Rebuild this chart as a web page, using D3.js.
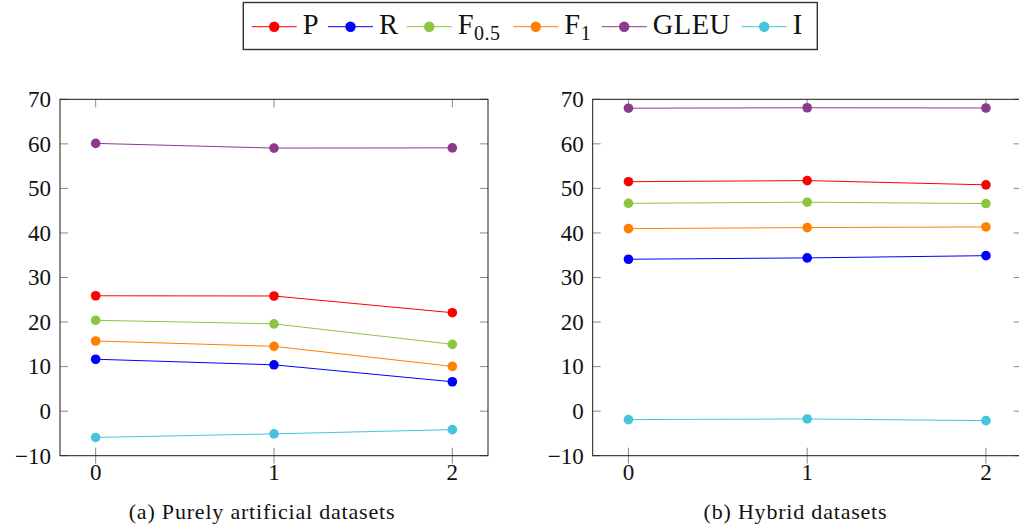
<!DOCTYPE html>
<html>
<head>
<meta charset="utf-8">
<script src="https://cdn.jsdelivr.net/npm/d3@7"></script>
<style>
  html, body { margin: 0; padding: 0; background: #fff; }
  svg { display: block; }
  text { fill: #111; }
</style>
</head>
<body>
<svg id="chart" width="1019" height="530"></svg>
<script>
// ---- data ----
const xValues = [0, 1, 2];
const seriesNames = ["P", "R", "F0.5", "F1", "GLEU", "I"];
const seriesColors = ["#ff0000", "#0000ff", "#8cc63f", "#ff8000", "#8b3a8e", "#45c4dc"];
const yTicks = [-10, 0, 10, 20, 30, 40, 50, 60, 70];

// (a) Purely artificial datasets
const artP    = [25.9, 25.85, 22.1];
const artR    = [11.65, 10.4, 6.6];
const artF05  = [20.4, 19.6, 15.0];
const artF1   = [15.75, 14.55, 10.05];
const artGLEU = [60.1, 59.05, 59.1];
const artI    = [-5.9, -5.1, -4.15];

// (b) Hybrid datasets
const hybP    = [51.5, 51.75, 50.8];
const hybR    = [34.1, 34.4, 34.9];
const hybF05  = [46.65, 46.9, 46.6];
const hybF1   = [40.97, 41.2, 41.35];
const hybGLEU = [68.0, 68.1, 68.05];
const hybI    = [-1.9, -1.75, -2.13];

const captions = ["(a) Purely artificial datasets", "(b) Hybrid datasets"];

const panels = [
  { caption: captions[0], series: [artP, artR, artF05, artF1, artGLEU, artI], left: 60, right: 488, capX: 262 },
  { caption: captions[1], series: [hybP, hybR, hybF05, hybF1, hybGLEU, hybI], left: 592.7, right: 1021.7, capX: 795.5 }
];

const svg = d3.select("#chart");
const plotTop = 99.3, plotBottom = 455.7;
const tickLen = 8;
const FONT = "'Liberation Serif', 'Times New Roman', Times, Tinos, 'Noto Serif', 'DejaVu Serif', FreeSerif, serif";

panels.forEach(p => {
  const x = d3.scaleLinear().domain([-0.2, 2.2]).range([p.left, p.right]);
  const y = d3.scaleLinear().domain([-10, 70]).range([plotBottom, plotTop]);
  const g = svg.append("g");

  const tg = g.append("g").attr("stroke", "#8a8a8a").attr("stroke-width", 1);
  yTicks.forEach(t => {
    tg.append("line").attr("x1", p.left).attr("x2", p.left + tickLen).attr("y1", y(t)).attr("y2", y(t));
    tg.append("line").attr("x1", p.right).attr("x2", p.right - tickLen).attr("y1", y(t)).attr("y2", y(t));
  });
  xValues.forEach(t => {
    tg.append("line").attr("x1", x(t)).attr("x2", x(t)).attr("y1", plotTop).attr("y2", plotTop + tickLen);
    tg.append("line").attr("x1", x(t)).attr("x2", x(t)).attr("y1", plotBottom - tickLen).attr("y2", plotBottom + tickLen);
  });

  g.append("rect").attr("x", p.left).attr("y", plotTop)
    .attr("width", p.right - p.left).attr("height", plotBottom - plotTop)
    .attr("fill", "none").attr("stroke", "#1a1a1a").attr("stroke-width", 1);

  g.selectAll(".ylab").data(yTicks).enter().append("text")
    .attr("x", p.left - 9).attr("y", d => y(d)).attr("dy", "0.34em")
    .attr("text-anchor", "end").style("font-family", FONT).style("font-size", "23px")
    .text(d => d < 0 ? "\u2212" + Math.abs(d) : d);

  g.selectAll(".xlab").data(xValues).enter().append("text")
    .attr("x", d => x(d)).attr("y", 480)
    .attr("text-anchor", "middle").style("font-family", FONT).style("font-size", "23px")
    .text(d => d);

  g.append("text").attr("x", p.capX).attr("y", 519)
    .attr("text-anchor", "middle").style("font-family", FONT)
    .style("font-size", "22px").style("letter-spacing", "0.8px")
    .text(p.caption);

  const line = d3.line().x((d, i) => x(xValues[i])).y(d => y(d));
  p.series.forEach((vals, si) => {
    const col = seriesColors[si];
    g.append("path").datum(vals).attr("d", line)
      .attr("fill", "none").attr("stroke", col).attr("stroke-width", 1);
    g.selectAll(null).data(vals).enter().append("circle")
      .attr("cx", (d, i) => x(xValues[i])).attr("cy", d => y(d))
      .attr("r", 4.8).attr("fill", col);
  });
});

// ---- legend ----
const lg = svg.append("g");
lg.append("rect").attr("x", 243.3).attr("y", 2.5).attr("width", 574).attr("height", 47)
  .attr("fill", "#fff").attr("stroke", "#333").attr("stroke-width", 1.4);
const itemX = [251.7, 328, 406.7, 513.3, 601.7, 741.7];
const ly = 26.7;
seriesNames.forEach((name, i) => {
  const x0 = itemX[i];
  const col = seriesColors[i];
  lg.append("line").attr("x1", x0).attr("x2", x0 + 45).attr("y1", ly).attr("y2", ly)
    .attr("stroke", col).attr("stroke-width", 1);
  lg.append("circle").attr("cx", x0 + 22.5).attr("cy", ly).attr("r", 5.2).attr("fill", col);
  const t = lg.append("text").attr("x", x0 + 51).attr("y", 34.3).style("font-family", FONT)
    .style("font-size", "28.5px").style("letter-spacing", "0.5px");
  if (name.startsWith("F")) {
    t.append("tspan").text("F");
    t.append("tspan").attr("dy", 6).style("font-size", "20px").text(name.slice(1));
  } else {
    t.text(name);
  }
});
</script>
</body>
</html>
